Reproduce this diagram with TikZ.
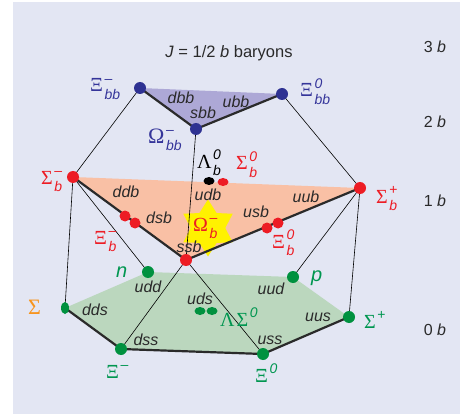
\documentclass[tikz,border=0pt]{standalone}
\usepackage{fontspec}
\setmainfont{Liberation Sans}
\newfontfamily\grkfont{Liberation Serif}
\usetikzlibrary{shapes.geometric}
\definecolor{bgc}{HTML}{E3E6F3}
\definecolor{purp}{HTML}{ADA8D6}
\definecolor{orng}{HTML}{F9C0A5}
\definecolor{grnf}{HTML}{BBD7BE}
\definecolor{bluec}{HTML}{2E3192}
\definecolor{bluet}{HTML}{35359A}
\definecolor{redc}{HTML}{ED1C24}
\definecolor{grnc}{HTML}{00913F}
\definecolor{grnt}{HTML}{009650}
\definecolor{orat}{HTML}{F7941D}
\definecolor{txt}{HTML}{2A2A2A}
\definecolor{staryel}{HTML}{FFF200}
\pgfdeclarelayer{background}
\pgfsetlayers{background,main}
\newcommand\scr[1]{{\fontsize{14}{16}\selectfont\itshape #1}}
\newcommand\gk[1]{{\fontsize{20}{22}\selectfont\grkfont #1}}
\newcommand\hdr[3]{\gk{#1}\kern1.5pt\rlap{\raisebox{8.5pt}{\scr{#2}}}\raisebox{-7.5pt}{\scr{#3}}}
\newcommand\hsp[2]{\gk{#1}\kern1.5pt\raisebox{8.5pt}{\scr{#2}}}
\begin{document}
\begin{tikzpicture}[x=1pt,y=-1pt,
  dotb/.style={circle,fill=bluec,inner sep=0,minimum size=12pt},
  dotr/.style={circle,fill=redc,inner sep=0,minimum size=12pt},
  dotrs/.style={circle,fill=redc,inner sep=0,minimum size=11pt},
  dotg/.style={circle,fill=grnc,inner sep=0,minimum size=12pt},
  ell/.style={ellipse,inner sep=0,minimum width=11pt,minimum height=8pt},
  quark/.style={inner sep=0,text=txt,font=\fontsize{16}{18}\selectfont\itshape},
  lab/.style={inner sep=0,anchor=base west},
  thinline/.style={black,line width=0.6pt},
  boldline/.style={txt,line width=2.2pt,line join=round},
  level/.style={inner sep=0,text=txt,font=\fontsize{16}{18}\selectfont}]
\useasboundingbox (0,0) rectangle (460,414);
% dots
\node[dotb] (XbbM) at (140,88) {};
\node[dotb] (Xbb0) at (282,94) {};
\node[dotb] (Obb) at (196,129) {};
\node[dotr] (SbM) at (73,177) {};
\node[dotr] (SbP) at (360,188) {};
\node[dotr] (ssbd) at (186,260) {};
\node[dotrs] (XbMa) at (125,216) {};
\node[dotrs] (XbMb) at (135,223) {};
\node[dotrs] (Xb0a) at (267,228) {};
\node[dotrs] (Xb0b) at (278,223) {};
\node[ell,fill=black] (Lbd) at (209,181) {};
\node[ell,fill=redc] (Sb0d) at (223,182) {};
\node[dotg] (n) at (148,272) {};
\node[dotg] (p) at (293,277) {};
\node[ellipse,fill=grnc,inner sep=0,minimum width=8pt,minimum height=12pt] (SM) at (65,308) {};
\node[dotg] (XM) at (121,349) {};
\node[dotg] (X0) at (263,354) {};
\node[dotg] (SP) at (349,317) {};
\node[ell,fill=grnc] (L0d) at (200,311) {};
\node[ell,fill=grnc] (S0d) at (212,311) {};
\begin{pgfonlayer}{background}
\fill[bgc] (13,2) rectangle (460,414);
\fill[purp] (XbbM.center) -- (Xbb0.center) -- (Obb.center) -- cycle;
\fill[orng] (SbM.center) -- (SbP.center) -- (ssbd.center) -- cycle;
\fill[grnf] (SM.center) -- (n.center) -- (p.center) -- (SP.center) -- (X0.center) -- (XM.center) -- cycle;
\node[star,star points=6,star point ratio=1.65,minimum size=57pt,inner sep=0,fill=staryel] (star) at (208,228) {};
\draw[thinline] (XbbM.center) -- (SbM.center);
\draw[thinline] (Xbb0.center) -- (SbP.center);
\draw[thinline] (Obb.center) -- (ssbd.center);
\draw[thinline] (SbM.center) -- (SM.center);
\draw[thinline] (SbM.center) -- (n.center);
\draw[thinline] (ssbd.center) -- (XM.center);
\draw[thinline] (ssbd.center) -- (X0.center);
\draw[thinline] (SbP.center) -- (p.center);
\draw[thinline] (SbP.center) -- (SP.center);
\draw[boldline] (XbbM.center) -- (Obb.center) -- (Xbb0.center);
\draw[boldline] (SbM.center) -- (ssbd.center) -- (SbP.center);
\draw[boldline] (SM.center) -- (XM.center) -- (X0.center) -- (SP.center);
\end{pgfonlayer}
% title and levels
\node[inner sep=0,text=txt,font=\fontsize{16.5}{18}\selectfont] (title) at (229,53) {\textit{J} = 1/2 \textit{b} baryons};
\node[level] (l3) at (435,47) {3 \textit{b}};
\node[level] (l2) at (435,122) {2 \textit{b}};
\node[level] (l1) at (435,201) {1 \textit{b}};
\node[level] (l0) at (435,330) {0 \textit{b}};
% quark labels
\node[quark] (q1) at (181,98) {dbb};
\node[quark] (q2) at (236,102) {ubb};
\node[quark] (q3) at (203,113) {sbb};
\node[quark] (q4) at (126,192) {ddb};
\node[quark] (q5) at (159,218) {dsb};
\node[quark] (q6) at (208,195) {udb};
\node[quark] (q7) at (256,212) {usb};
\node[quark] (q8) at (306,197) {uub};
\node[quark] (q9) at (189,247) {ssb};
\node[quark] (q10) at (148,287) {udd};
\node[quark] (q11) at (200,299) {uds};
\node[quark] (q12) at (271,289) {uud};
\node[quark] (q13) at (95,310) {dds};
\node[quark] (q14) at (146,340) {dss};
\node[quark] (q15) at (270,340) {uss};
\node[quark] (q16) at (318,317) {uus};
% hadron labels
\node[lab,text=bluet] (tXbbM) at (90,92) {\hdr{Ξ}{–}{bb}};
\node[lab,text=bluet] (tXbb0) at (300,97) {\hdr{Ξ}{0}{bb}};
\node[lab,text=bluet] (tObb) at (148,144) {{\fontsize{22}{24}\selectfont\grkfont Ω}\kern1.5pt\rlap{\raisebox{9pt}{\scr{–}}}\raisebox{-7pt}{\scr{bb}}};
\node[lab,text=black] (tLb) at (197,168) {\hdr{Λ}{0}{b}};
\node[lab,text=redc] (tSb0) at (236,170) {\hdr{Σ}{0}{b}};
\node[lab,text=redc] (tSbM) at (41,184) {\hdr{Σ}{–}{b}};
\node[lab,text=redc] (tSbP) at (376,203) {\hdr{Σ}{\upshape+}{b}};
\node[lab,text=redc] (tXbM) at (94,244) {\hdr{Ξ}{–}{b}};
\node[lab,text=redc] (tXb0) at (272,248) {\hdr{Ξ}{0}{b}};
\node[lab,text=redc] (tOb) at (193,231) {\hdr{Ω}{–}{b}};
\node[lab,text=grnt] (tLS0) at (220,326) {\gk{Λ\kern2pt}\hsp{Σ}{0}};
\node[lab,text=orat] (tSM) at (28,314) {{\fontsize{22}{24}\selectfont\grkfont Σ}};
\node[lab,text=grnt] (tXM) at (106,378) {\hsp{Ξ}{–}};
\node[lab,text=grnt] (tX0) at (255,382) {\hsp{Ξ}{0}};
\node[lab,text=grnt] (tSP) at (364,328) {\hsp{Σ}{\upshape+}};
\node[lab,text=grnt,font=\fontsize{20}{22}\selectfont\itshape] (tn) at (116,277) {n};
\node[lab,text=grnt,font=\fontsize{20}{22}\selectfont\itshape] (tp) at (311,281) {p};
\end{tikzpicture}
\end{document}
